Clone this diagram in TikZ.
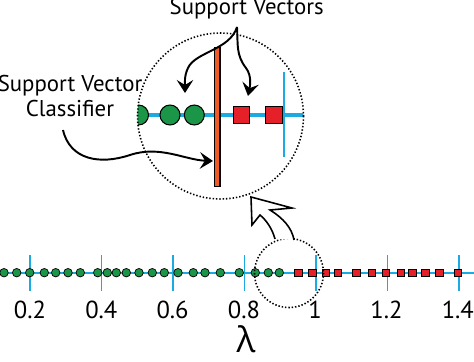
\documentclass[tikz,border=0pt]{standalone}
\usepackage{fontspec}
\setmainfont{PT Sans}
\newfontfamily\lamfont{Open Sans}
\usetikzlibrary{arrows.meta}
\definecolor{axisblue}{RGB}{28,170,226}
\definecolor{ptgreen}{RGB}{27,150,72}
\definecolor{ptred}{RGB}{230,32,40}
\definecolor{svcorange}{RGB}{240,90,40}
\tikzset{
  lbl/.style={font=\fontsize{13}{14.5}\selectfont, inner sep=0pt},
  numlbl/.style={font=\fontsize{14}{16}\selectfont, inner sep=0pt},
  axisline/.style={draw=axisblue, line width=1.3pt},
  tickline/.style={draw=axisblue, line width=0.9pt},
  gdot/.style={circle, fill=ptgreen, draw=black, line width=0.4pt, inner sep=0pt, minimum size=1.7mm},
  rdot/.style={rectangle, fill=ptred, draw=black, line width=0.4pt, inner sep=0pt, minimum size=1.45mm},
  gbig/.style={gdot, line width=0.6pt, minimum size=4mm},
  rbig/.style={rdot, line width=0.6pt, minimum size=3.3mm},
  lens/.style={draw=black, line width=0.9pt, dash pattern=on 0.8pt off 1.1pt},
  sarrow/.style={draw=black, line width=1.1pt, -{Stealth[length=2.6mm, width=3.3mm, inset=1mm]}}
}
\begin{document}
\begin{tikzpicture}[x=0.02cm, y=-0.02cm]
    \useasboundingbox (0,0) rectangle (474,362);
    % number line
    \draw[axisline] (0,272.7) -- (474,272.7);
    \foreach \t [count=\i from 0] in {0.2,0.4,0.6,0.8,1,1.2,1.4} {
        \draw[tickline] (30+71.5*\i,255) -- (30+71.5*\i,291);
        \node[numlbl] (n\i) at (30+71.3*\i,310) {\t};
    }
    \node[font=\lamfont\fontsize{20}{22}\selectfont, inner sep=0pt] (lam) at (246,339) {λ};
    \foreach \x [count=\i] in {4,16.7,29.7,44.3,55.7,68,80.3,97.7,107.3,116.3,126.3,139,152.3,164.3,178,193.3,205,220.3,239.3,255.3,268.3,279.3}
        \node[gdot] (g\i) at (\x,272.7) {};
    \foreach \x [count=\i] in {298.3,312.3,325.7,337.7,356.3,371.7,386,401,412.3,425.3,439.3,458}
        \node[rdot] (r\i) at (\x,272.7) {};
    \draw[lens] (289,273) circle (34.5);
    % blow-up
    \begin{scope}
        \clip (220.5,116) circle (83);
        \draw[axisblue, line width=2.4pt] (130,115) -- (310,115);
        \draw[axisblue, line width=1.6pt] (284,72) -- (284,157);
        \foreach \x [count=\i] in {138.5,170,194.3}
            \node[gbig] (zg\i) at (\x,115) {};
        \foreach \x [count=\i] in {241.3,274}
            \node[rbig] (zr\i) at (\x,115) {};
    \end{scope}
    \draw[fill=svcorange, line width=0.6pt] (214.6,47.3) rectangle (220,186.7);
    \draw[lens] (220.5,116) circle (83);
    \draw[fill=white, line width=0.9pt, line join=miter]
        (275,239) .. controls (272,228) and (266,220) .. (260,215) -- (252,225) -- (251,197)
        -- (292,208) -- (270,210) .. controls (283,218) and (292,228) .. (294,240);
    % labels
    \node[lbl] (sv) at (246.7,9) {Support Vectors};
    \node[lbl, align=center] (svc) at (70,96) {Support Vector\\Classifier};
    \coordinate (fork) at (237,27);
    \coordinate (svl) at (185,93);
    \coordinate (svr) at (248,96);
    \coordinate (svcstart) at (63,130);
    \coordinate (svcend) at (213,161);
    \draw[sarrow] (fork) .. controls (230,50) and (195,52) .. (188,68) .. controls (184,76) and (185,84) .. (svl);
    \draw[sarrow] (fork) .. controls (238,45) and (236,55) .. (246,68) .. controls (252,76) and (250,86) .. (svr);
    \draw[sarrow] (svcstart) .. controls (70,160) and (100,165) .. (130,155) .. controls (160,145) and (185,160) .. (svcend);
\end{tikzpicture}
\end{document}
